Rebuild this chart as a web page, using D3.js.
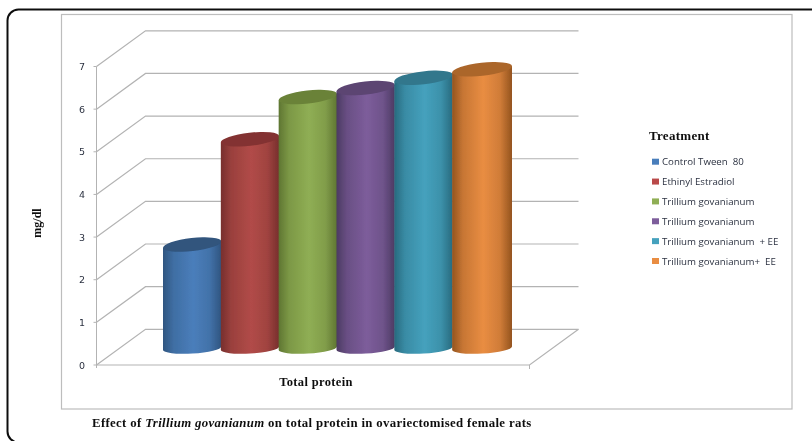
<!DOCTYPE html>
<html><head><meta charset="utf-8">
<script src="https://cdnjs.cloudflare.com/ajax/libs/d3/7.8.5/d3.min.js"></script>
<style>html,body{margin:0;padding:0;background:#fff;overflow:hidden}svg{display:block}</style>
</head><body><svg id="c" width="812" height="441"></svg>
<script>
const treatments = ["Control Tween  80","Ethinyl Estradiol","Trillium govanianum","Trillium govanianum","Trillium govanianum  + EE","Trillium govanianum+  EE"];
const values = [2.43,4.9,5.89,6.1,6.34,6.54];
const yTicks = [0,1,2,3,4,5,6,7];
const bodyColors = ["#4a7ebb","#b14b48","#8fae54","#7d5d9b","#45a1bd","#e98d42"];
const edgeColors = ["#2f5580","#772f2d","#5f7632","#4c3a62","#286a7e","#94541f"];
const topColors  = ["#30547d","#833331","#6a8239","#5b4472","#32778c","#ab662c"];
const legendColors = ["#4a7ebb","#b94a48","#8fae54","#7d5d9b","#45a1bd","#e98d42"];

const svg = d3.select("#c");
const defs = svg.append("defs");
defs.append("filter").attr("id","soft").attr("x",0).attr("y",0).attr("width",1).attr("height",1)
  .append("feGaussianBlur").attr("stdDeviation",0.35);
const root = svg.append("g").attr("filter","url(#soft)");
root.append("rect").attr("width",812).attr("height",441).attr("fill","#fff");
const y = d3.scaleLinear().domain([0,7]).range([365,66.5]);
const x = d3.scaleBand().domain(d3.range(values.length)).range([163,510]).padding(0);
const frontL = 96.5, frontR = 529.5, dx = 49, dy = 35.7;
const grid = "#b3b3b3";

// outer rounded border and chart frame
root.append("rect").attr("x",7.5).attr("y",9.5).attr("width",860).attr("height",433).attr("rx",11)
  .attr("fill","none").attr("stroke","#111").attr("stroke-width",2);
root.append("rect").attr("x",61.5).attr("y",14.5).attr("width",730.5).attr("height",394.5)
  .attr("fill","#fff").attr("stroke","#bdbdbd").attr("stroke-width",1.2);

// back wall gridlines and side-wall diagonals
const g = root.append("g").attr("fill","none").attr("stroke",grid);
yTicks.forEach(t=>{
  g.append("path").attr("d",d3.line()([[frontL,y(t)],[frontL+dx,y(t)-dy],[frontR+dx,y(t)-dy]])).attr("stroke-width",1.2);
  g.append("line").attr("x1",frontL-3).attr("x2",frontL).attr("y1",y(t)).attr("y2",y(t));
});
g.append("line").attr("x1",frontL).attr("x2",frontL).attr("y1",y(7)).attr("y2",y(0)+3);
g.append("path").attr("d",d3.line()([[frontL,y(0)],[frontR,y(0)],[frontR+dx,y(0)-dy]])).attr("stroke-width",1.2);
g.append("line").attr("x1",frontR).attr("x2",frontR).attr("y1",y(0)).attr("y2",y(0)+4);

// tick labels
root.append("g").selectAll("text").data(yTicks).join("text")
  .attr("x",82).attr("y",d=>y(d)+3.5).attr("text-anchor","middle")
  .attr("font-family","'DejaVu Sans'").attr("font-size",9.5).attr("fill","#2b3140").text(d=>d);

// cylinders
const depthMid = 16.8, ry = 6.5, rim = 3.3, baseRim = 1.7, baseRy = 5.4;
values.forEach((v,i)=>{
  const id = "g"+i;
  const gr = defs.append("linearGradient").attr("id",id).attr("x1",0).attr("x2",1).attr("y1",0).attr("y2",0);
  [[0,edgeColors[i]],[0.18,d3.interpolateRgb(edgeColors[i],bodyColors[i])(0.6)],[0.52,bodyColors[i]],[0.8,d3.interpolateRgb(edgeColors[i],bodyColors[i])(0.7)],[1,edgeColors[i]]]
    .forEach(s=>gr.append("stop").attr("offset",s[0]).attr("stop-color",s[1]));
  const L = x(i), W = x.bandwidth()+(i===values.length-1?2:0.5), R = L+W;
  const yTop = y(v)-depthMid, yBase = y(0)-depthMid;
  const angTop = Math.atan2(-2*rim,W)*180/Math.PI, hTop = Math.hypot(W,2*rim)/2;
  const angBase = Math.atan2(-2*baseRim,W)*180/Math.PI, hBase = Math.hypot(W,2*baseRim)/2;
  root.append("path")
    .attr("d",`M${L},${yTop+rim} L${L},${yBase+baseRim} A${hBase},${baseRy} ${angBase} 0 0 ${R},${yBase-baseRim} L${R},${yTop-rim} Z`)
    .attr("fill",`url(#${id})`);
  root.append("path")
    .attr("d",`M${L},${yTop+rim} A${hTop},${ry} ${angTop} 1 1 ${R},${yTop-rim} A${hTop},${ry} ${angTop} 1 1 ${L},${yTop+rim} Z`)
    .attr("fill",topColors[i]);
});

// legend
const serif = "'Liberation Serif'";
root.append("text").attr("x",649).attr("y",140).attr("font-family",serif).attr("font-weight","bold").attr("font-size",13).attr("letter-spacing",0.3).attr("fill","#111").text("Treatment");
const ly = d3.scalePoint().domain(d3.range(treatments.length)).range([161.7,261]);
const lg = root.append("g").selectAll("g").data(treatments).join("g").attr("transform",(d,i)=>`translate(652,${ly(i)})`);
lg.append("rect").attr("y",-3).attr("width",7).attr("height",6).attr("fill",(d,i)=>legendColors[i]);
lg.append("text").attr("x",10).attr("y",3.5).style("white-space","pre")
  .attr("font-family","'Open Sans'").attr("font-size",9.7).attr("fill","#2b3140").text(d=>d);

// titles
root.append("text").attr("transform","translate(41,223) rotate(-90)").attr("text-anchor","middle")
  .attr("font-family",serif).attr("font-weight","bold").attr("font-size",12).attr("fill","#111").text("mg/dl");
root.append("text").attr("x",316).attr("y",386).attr("text-anchor","middle")
  .attr("font-family",serif).attr("font-weight","bold").attr("font-size",12.5).attr("letter-spacing",0.35).attr("fill","#111").text("Total protein");
const cap = root.append("text").attr("x",92).attr("y",426.5).attr("font-family",serif).attr("font-weight","bold").attr("font-size",12.8).attr("letter-spacing",0.34).attr("fill","#111");
cap.append("tspan").text("Effect of ");
cap.append("tspan").attr("font-style","italic").text("Trillium govanianum");
cap.append("tspan").text(" on total protein in ovariectomised female rats");
</script></body></html>
